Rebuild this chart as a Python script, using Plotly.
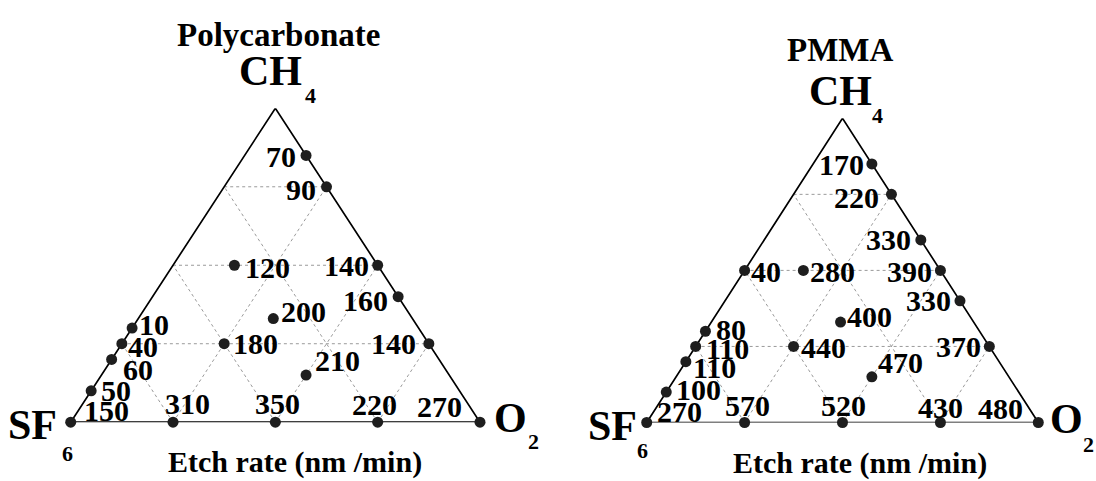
import plotly.graph_objects as go

# ---- Etch-rate data: gas mixture (% CH4 / SF6 / O2) and etch rate (nm/min) ----
pc_ch4 = [85, 75, 50, 40, 25, 0, 0, 0, 0, 0, 10, 20, 25, 30, 50, 33, 25, 15]
pc_sf6 = [0, 0, 0, 0, 0, 0, 25, 50, 75, 100, 90, 80, 75, 70, 35, 34, 50, 35]
pc_o2 = [15, 25, 50, 60, 75, 100, 75, 50, 25, 0, 0, 0, 0, 0, 15, 33, 25, 50]
pc_rate = [70, 90, 140, 160, 140, 270, 220, 350, 310, 150, 50, 60, 40, 10, 120, 200, 180, 210]

pmma_ch4 = [85, 75, 60, 50, 40, 25, 0, 0, 0, 0, 0, 10, 20, 25, 30, 50, 50, 33, 25, 15]
pmma_sf6 = [0, 0, 0, 0, 0, 0, 0, 25, 50, 75, 100, 90, 80, 75, 70, 50, 35, 34, 50, 35]
pmma_o2 = [15, 25, 40, 50, 60, 75, 100, 75, 50, 25, 0, 0, 0, 0, 0, 0, 15, 33, 25, 50]
pmma_rate = [170, 220, 330, 390, 330, 370, 480, 430, 520, 570, 270, 100, 110, 110, 80, 40, 280, 400, 440, 470]

grid_levels = [25, 50, 75]

# label placement next to each dot (pixel shift right, pixel shift down)
pc_label_shift = [(-25, 1), (-26, 3), (-31, 0), (-33, 4), (-35, 0), (-41, -16),
                  (-3, -18), (2, -19), (14, -19), (36, -12), (25, 0), (26, 10),
                  (21, 3), (22, -4), (33, 2), (30, -7), (31, 0), (31, -15)]
pmma_label_shift = [(-30, 1), (-35, 3), (-32, 0), (-31, 1), (-31, 0), (-31, 0),
                    (-38, -14), (0, -15), (1, -17), (3, -17), (33, -11), (32, -3),
                    (29, 6), (32, 2), (26, -2), (21, 1), (29, 1), (29, -6),
                    (30, 1), (29, -14)]

W, H = 1096, 481
SERIF = "Liberation Serif, Times New Roman, serif"


def to_xy(ch4, sf6, o2):
    """Ternary composition -> triangle coords (SF6 at (0,0), O2 at (1,0), CH4 at (0.5,1))."""
    xs, ys = [], []
    for a, b, c in zip(ch4, sf6, o2):
        t = a + b + c
        xs.append((c + a / 2) / t)
        ys.append(a / t)
    return xs, ys


def grid_lines():
    xs, ys = [], []
    for v in grid_levels:
        r = 100 - v
        for p, q in (((v, r, 0), (v, 0, r)),      # constant CH4
                     ((0, r, v), (r, 0, v)),      # constant O2
                     ((0, v, r), (r, v, 0))):     # constant SF6
            px, py = to_xy(*zip(p, q))
            xs += px + [None]
            ys += py + [None]
    return xs, ys


panels = [
    dict(name="Polycarbonate", ch4=pc_ch4, sf6=pc_sf6, o2=pc_o2, rate=pc_rate,
         shift=pc_label_shift, ax="", px=(70.7, 480.0), py=(422.2, 108.3),
         title_xy=(278, 35), xlabel_xy=(294.5, 462),
         ch=((-5, -37), (35, -13)), sf=((-38, 3), (-3, 31)), o=((30, -4), (53, 19))),
    dict(name="PMMA", ch4=pmma_ch4, sf6=pmma_sf6, o2=pmma_o2, rate=pmma_rate,
         shift=pmma_label_shift, ax="2", px=(646.7, 1038.3), py=(422.5, 118.3),
         title_xy=(839.5, 50), xlabel_xy=(859.6, 463),
         ch=((-2, -27), (35, -3)), sf=((-34, 4), (-4, 28)), o=((28, -3), (50, 22))),
]

fig = go.Figure()
annotations = []


def note(text, x, y, size, dx=0, dy=0, xref="paper", yref="paper"):
    annotations.append(dict(
        text=text, x=x, y=y, xref=xref, yref=yref, showarrow=False,
        xanchor="center", yanchor="middle", xshift=dx, yshift=-dy,
        font=dict(family=SERIF, size=size, color="black", weight="bold")))


gx, gy = grid_lines()
for p in panels:
    xa, ya = "x" + p["ax"], "y" + p["ax"]
    # dotted composition grid
    fig.add_trace(go.Scatter(x=gx, y=gy, mode="lines", xaxis=xa, yaxis=ya,
                             line=dict(color="#9a9a9a", width=1, dash="dot"),
                             hoverinfo="skip", showlegend=False, cliponaxis=False))
    # triangle frame
    fx, fy = to_xy([0, 0, 100, 0], [100, 0, 0, 100], [0, 100, 0, 0])
    fig.add_trace(go.Scatter(x=fx, y=fy, mode="lines", xaxis=xa, yaxis=ya,
                             line=dict(color="black", width=1.7),
                             hoverinfo="skip", showlegend=False, cliponaxis=False))
    # measured points
    mx, my = to_xy(p["ch4"], p["sf6"], p["o2"])
    fig.add_trace(go.Scatter(x=mx, y=my, mode="markers", xaxis=xa, yaxis=ya,
                             marker=dict(size=11, color="#1e1e1e"),
                             text=p["rate"], name=p["name"], showlegend=False,
                             cliponaxis=False))
    for x, y, r, (dx, dy) in zip(mx, my, p["rate"], p["shift"]):
        note(str(r), x, y, 30, dx, dy, xa, ya)

    # vertex labels
    (c1, c2), (s1, s2), (o1, o2_) = p["ch"], p["sf"], p["o"]
    note("CH", 0.5, 1, 42, *c1, xa, ya)
    note("4", 0.5, 1, 22, *c2, xa, ya)
    note("SF", 0, 0, 42, *s1, xa, ya)
    note("6", 0, 0, 22, *s2, xa, ya)
    note("O", 1, 0, 42, *o1, xa, ya)
    note("2", 1, 0, 22, *o2_, xa, ya)

    # panel title and caption
    tx, ty = p["title_xy"]
    note(p["name"], tx / W, 1 - ty / H, 33)
    lx, ly = p["xlabel_xy"]
    note("Etch rate (nm /min)", lx / W, 1 - ly / H, 30)

    axis_style = dict(visible=False, range=[0, 1], fixedrange=True)
    fig.update_layout(**{
        "xaxis" + p["ax"]: dict(axis_style, domain=[p["px"][0] / W, p["px"][1] / W]),
        "yaxis" + p["ax"]: dict(axis_style, domain=[1 - p["py"][0] / H, 1 - p["py"][1] / H],
                                anchor="x" + p["ax"]),
    })

fig.update_layout(
    width=W, height=H, margin=dict(l=0, r=0, t=0, b=0),
    paper_bgcolor="white", plot_bgcolor="white",
    showlegend=False, annotations=annotations,
)

fig.write_html("out.html")
